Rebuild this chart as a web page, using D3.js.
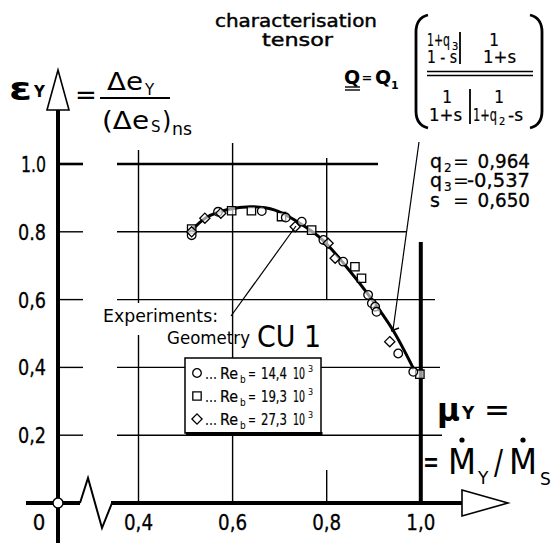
<!DOCTYPE html>
<html>
<head>
<meta charset="utf-8">
<script src="https://cdn.jsdelivr.net/npm/d3@7"></script>
<style>
  body { margin: 0; background: #fff; }
  svg { display: block; }
</style>
</head>
<body>
<svg id="chart" width="555" height="543"></svg>
<script>
// ---- data ----
const yTicks = [0.2, 0.4, 0.6, 0.8, 1.0];
const yTickLabels = ["0,2", "0,4", "0,6", "0.8", "1.0"];
const xTicks = [0.4, 0.6, 0.8, 1.0];
const xTickLabels = ["0,4", "0,6", "0,8", "1,0"];

// characterisation-tensor fit
const curveX = [0.51, 0.545, 0.59, 0.64, 0.69, 0.735, 0.79, 0.84, 0.89, 0.94, 0.985];
const curveY = [0.80, 0.843, 0.866, 0.874, 0.864, 0.832, 0.778, 0.700, 0.612, 0.512, 0.395];

// experiments, Re_b = 14,4 10^3
const circX = [0.513, 0.569, 0.662, 0.713, 0.747, 0.793, 0.835, 0.888, 0.896, 0.903, 0.906, 0.952, 0.984];
const circY = [0.790, 0.859, 0.861, 0.842, 0.830, 0.776, 0.712, 0.614, 0.589, 0.579, 0.564, 0.441, 0.387];
// Re_b = 19,3 10^3
const sqX = [0.513, 0.598, 0.640, 0.704, 0.768, 0.860, 0.874, 0.998];
const sqY = [0.808, 0.862, 0.862, 0.845, 0.805, 0.697, 0.663, 0.380];
// Re_b = 27,3 10^3
const diaX = [0.513, 0.541, 0.575, 0.733, 0.803, 0.818, 0.934];
const diaY = [0.800, 0.840, 0.855, 0.815, 0.766, 0.722, 0.476];

const legendRe = ["14,4", "19,3", "27,3"];
const qLabels = [["q", "2", "0,964"], ["q", "3", "-0,537"], ["s", "", "0,650"]];

// ---- scales ----
const svg = d3.select("#chart");
const x = d3.scaleLinear().domain([0.4, 1.0]).range([138.5, 420.8]);
const y = d3.scaleLinear().domain([0, 1]).range([503, 164]);
const xOrigin = 58;           // broken axis: the "0" sits on the y axis
const NUM = "'DejaVu Sans Condensed','Liberation Sans Narrow',sans-serif";
const TXT = "'DejaVu Sans',sans-serif";

const g = svg.append("g").attr("stroke-linecap", "butt");

// text helper: o = {anchor, w (fitted width), fam, bold, sw (outline width)}
function txt(s, tx, ty, size, o = {}) {
  const t = g.append("text").attr("x", tx).attr("y", ty).attr("font-size", size)
    .attr("font-family", o.fam || TXT).attr("text-anchor", o.anchor || "start").text(s);
  if (o.bold) t.attr("font-weight", "bold");
  if (o.sw) t.attr("stroke", "#000").attr("stroke-width", o.sw);
  if (o.w) t.attr("textLength", o.w).attr("lengthAdjust", "spacingAndGlyphs");
  return t;
}
function seg(x1, y1, x2, y2, w) {
  return g.append("line").attr("x1", x1).attr("y1", y1).attr("x2", x2).attr("y2", y2)
    .attr("stroke", "#000").attr("stroke-width", w);
}

// ---- grid ----
const gridEnd = {0.2: 442, 0.4: 440, 0.6: 435, 0.8: 406, 1.0: 378};
yTicks.forEach(v => {
  const w = v === 1.0 ? 2.6 : 1.4;
  seg(xOrigin, y(v), 83, y(v), w);
  seg(117, y(v), gridEnd[v], y(v), w);
});
const vSegs = {
  0.4: [[150, 303], [335, y(0)]],
  0.6: [[143, y(0)]],
  0.8: [[158, 300], [470, y(0)]]
};
Object.keys(vSegs).forEach(k => vSegs[k].forEach(s => seg(x(+k), s[0], x(+k), s[1], 1.4)));
// bold limit line at mu = 1
seg(x(1), 242, x(1), y(0), 4);

// ---- axes ----
seg(xOrigin, 108, xOrigin, 543, 4);
g.append("path").attr("d", `M${xOrigin - 11},110 L${xOrigin},70 L${xOrigin + 11},110 Z`)
  .attr("fill", "#fff").attr("stroke", "#000").attr("stroke-width", 1.6);
seg(26, y(0), 80, y(0), 4);
g.append("path").attr("d", `M80,${y(0)} L88,478 L102,528 L112,${y(0)}`)
  .attr("fill", "none").attr("stroke", "#000").attr("stroke-width", 2);
seg(111, y(0), 462, y(0), 4);
g.append("path").attr("d", `M462,490 L508,${y(0)} L462,516 Z`)
  .attr("fill", "#fff").attr("stroke", "#000").attr("stroke-width", 1.6);
g.append("circle").attr("cx", xOrigin).attr("cy", y(0)).attr("r", 5)
  .attr("fill", "#fff").attr("stroke", "#000").attr("stroke-width", 1.5);

// tick labels
yTicks.forEach((v, i) => txt(yTickLabels[i], 46, y(v) + 8, 22,
  {anchor: "end", fam: NUM, sw: 0.3, w: v === 1.0 ? 25 : 28}));
xTicks.forEach((v, i) => txt(xTickLabels[i], x(v), 530, 22,
  {anchor: "middle", fam: NUM, sw: 0.3, w: 29}));
txt("0", 39, 530, 22, {anchor: "middle", fam: NUM, sw: 0.3});

// ---- fitted curve ----
const pts = curveX.map((v, i) => [x(v), y(curveY[i])]);
g.append("path").attr("d", d3.line().curve(d3.curveCatmullRom)(pts))
  .attr("fill", "none").attr("stroke", "#000").attr("stroke-width", 3);

// ---- experimental points ----
const mk = g.append("g").attr("fill", "#fff").attr("fill-opacity", 0.6).attr("stroke", "#000").attr("stroke-width", 1.3);
const symCircle = d3.symbol().type(d3.symbolCircle).size(58);
const symSquare = d3.symbol().type(d3.symbolSquare).size(70);
const symDiamond = d3.symbol().type(d3.symbolDiamond2 || d3.symbolDiamond).size(66);
function drawPts(xs, ys, sym) {
  xs.forEach((v, i) => mk.append("path").attr("d", sym()).attr("transform", `translate(${x(v)},${y(ys[i])})`));
}
drawPts(sqX, sqY, symSquare);
drawPts(circX, circY, symCircle);
drawPts(diaX, diaY, symDiamond);

// ---- annotation pointers ----
seg(231, 316, 296, 226, 1.2);
seg(419, 142, 393, 330, 1.2);
seg(391, 331, 399, 328, 1.6);

// ---- text labels ----
txt("Experiments:", 103, 322, 17, {w: 115});
txt("Geometry", 167, 344, 17, {w: 83});
txt("CU 1", 257, 347, 31, {w: 64});

// legend
g.append("rect").attr("x", 185).attr("y", 358).attr("width", 136).attr("height", 75)
  .attr("fill", "#fff").attr("stroke", "#000").attr("stroke-width", 1.5);
seg(186, 433.5, 322.5, 433.5, 3);
const legSyms = [symCircle, symSquare, symDiamond];
[373, 396, 419].forEach((ry, i) => {
  g.append("path").attr("d", legSyms[i]()).attr("transform", `translate(197,${ry})`)
    .attr("fill", "#fff").attr("stroke", "#000").attr("stroke-width", 1.3);
  const b = ry + 5.5;
  txt("...", 205, b, 15, {fam: NUM, w: 12});
  txt("Re", 220, b, 16, {fam: NUM, w: 18, sw: 0.2});
  txt("b", 240, b + 4, 10, {fam: NUM});
  txt("=", 248, b, 15, {fam: NUM, w: 8});
  txt(legendRe[i], 261, b, 16, {fam: NUM, w: 26, sw: 0.2});
  txt("10", 293, b, 15, {fam: NUM, w: 12, sw: 0.2});
  txt("3", 308, b - 7, 9, {fam: NUM});
});

// y-axis quantity
txt("ε", 9, 100, 32, {bold: true, w: 23});
txt("Y", 34, 97, 15, {bold: true});
txt("=", 86, 104, 26, {anchor: "middle"});
txt("Δe", 107, 90, 24, {w: 36});
txt("Y", 145, 95, 15);
seg(100, 98, 170, 98, 2);
txt("(Δe", 102, 129, 24, {w: 47});
txt("S", 151, 132, 15);
txt(")", 162, 129, 24);
txt("ns", 172, 135, 17, {w: 20});

// title
txt("characterisation", 215, 27, 18, {sw: 0.45, w: 162});
txt("tensor", 262, 46, 18, {sw: 0.45, w: 71});

// tensor formula
txt("Q", 352, 84, 19, {anchor: "middle", bold: true});
[87, 90].forEach(yy => seg(345, yy, 360, yy, 1.4));
txt("=", 367, 82, 13, {anchor: "middle", bold: true});
txt("Q", 375, 84, 19, {bold: true});
txt("1", 391, 89, 11, {bold: true});
g.append("path").attr("d", "M428,15 Q416,18 416,32 L416,111 Q416,125 428,128")
  .attr("fill", "none").attr("stroke", "#000").attr("stroke-width", 2.8);
g.append("path").attr("d", "M530,15 Q542,18 542,32 L542,111 Q542,125 530,128")
  .attr("fill", "none").attr("stroke", "#000").attr("stroke-width", 2.8);
const M = {fam: NUM, sw: 0.2};
txt("1+q", 427, 46, 17, {...M, w: 23});
txt("3", 452, 50, 11, M);
txt("1 - s", 427, 63, 17, {...M, w: 30});
txt("1", 494, 46, 17, {...M, anchor: "middle"});
txt("1+s", 483, 63, 17, {...M, w: 33});
txt("1", 447, 103, 17, {...M, anchor: "middle"});
txt("1+s", 429, 121, 17, {...M, w: 33});
txt("1", 499, 103, 17, {...M, anchor: "middle"});
txt("1+q", 473, 121, 17, {...M, w: 24});
txt("2", 499, 125, 11, M);
txt("-s", 508, 121, 17, {...M, w: 15});
seg(460, 32, 460, 64, 1.8);
seg(470, 89, 470, 124, 1.8);
[71.5, 75.5].forEach(yy => seg(427, yy, 533, yy, 1.5));

// parameter values
[168, 187, 207].forEach((yy, i) => {
  txt(qLabels[i][0], 430, yy, 19, {sw: 0.3});
  if (qLabels[i][1]) txt(qLabels[i][1], 444, yy + 4, 12, {sw: 0.2});
  txt("=", 461, yy, 19, {anchor: "middle"});
  txt(qLabels[i][2], 530, yy, 19, {anchor: "end", sw: 0.3, w: qLabels[i][2].length * 10.5});
});

// x-axis quantity
txt("μ", 437, 421, 32, {bold: true, w: 23});
txt("Y", 462, 419, 17, {bold: true});
txt("=", 484, 421, 32, {w: 26});
txt("=", 431, 473, 32, {anchor: "middle", w: 16});
txt("M", 448, 474, 36, {w: 28});
txt("Y", 478, 484, 17);
txt("/", 494, 474, 34, {w: 9});
txt("M", 509, 474, 36, {w: 28});
txt("S", 540, 485, 17);
g.append("circle").attr("cx", 462).attr("cy", 440).attr("r", 2.6).attr("fill", "#000");
g.append("circle").attr("cx", 523).attr("cy", 440).attr("r", 2.6).attr("fill", "#000");
</script>
</body>
</html>
